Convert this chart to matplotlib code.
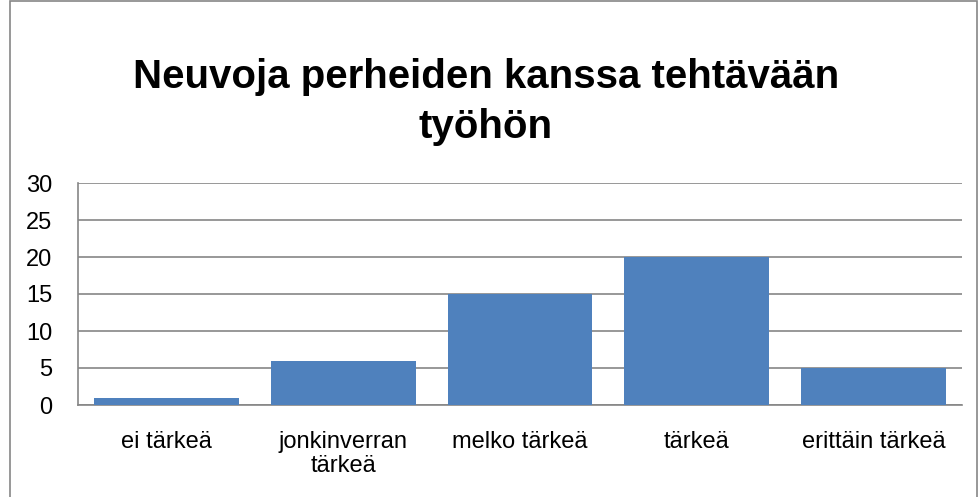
import matplotlib
matplotlib.use("Agg")
import matplotlib.pyplot as plt
from matplotlib.patches import Rectangle
from matplotlib import font_manager

categories = ["ei tärkeä", "jonkinverran\ntärkeä", "melko tärkeä", "tärkeä", "erittäin tärkeä"]
values = [1, 6, 15, 20, 5]
yticks = [0, 5, 10, 15, 20, 25, 30]
title = "Neuvoja perheiden kanssa tehtävään\ntyöhön"

names = {f.name for f in font_manager.fontManager.ttflist}
fam = "Liberation Sans Narrow" if "Liberation Sans Narrow" in names else "Liberation Sans"
plt.rcParams['font.family'] = [fam, 'DejaVu Sans']

W, H = 980, 497
fig = plt.figure(figsize=(W/100, H/100), dpi=100)
fig.patch.set_facecolor("white")

# outer chart border
fig.patches.append(Rectangle((10/W, -0.01), (977-10)/W, 1.0 - 1/H + 0.01, transform=fig.transFigure,
                             fill=False, edgecolor="#868686", linewidth=1.2))

left, right, top, bottom = 78, 962, 183, 405
ax = fig.add_axes([left/W, 1-bottom/H, (right-left)/W, (bottom-top)/H])
x = range(len(categories))
ax.bar(x, values, width=0.82, color="#4F81BD", zorder=3)
ax.set_xlim(-0.5, len(categories)-0.5)
ax.set_ylim(0, 30)
ax.set_yticks(yticks)
ax.set_yticklabels([str(t) for t in yticks], fontsize=17)
ax.set_xticks(list(x))
ax.set_xticklabels(categories, fontsize=17, linespacing=1.12)
ax.tick_params(axis='both', length=0, colors="black")
ax.tick_params(axis='y', pad=18.5)
ax.tick_params(axis='x', pad=18.5)
ax.grid(axis='y', color="#868686", linewidth=1.2, zorder=0)
for s in ["top", "right"]:
    ax.spines[s].set_visible(False)
for s in ["left", "bottom"]:
    ax.spines[s].set_color("#868686")
    ax.spines[s].set_linewidth(1.2)

fig.text(486/W, 1-102/H, title, ha="center", va="center", fontsize=29, fontweight="bold",
         family=["Liberation Sans", "DejaVu Sans"], linespacing=1.4)

fig.savefig("out.png", dpi=100)
